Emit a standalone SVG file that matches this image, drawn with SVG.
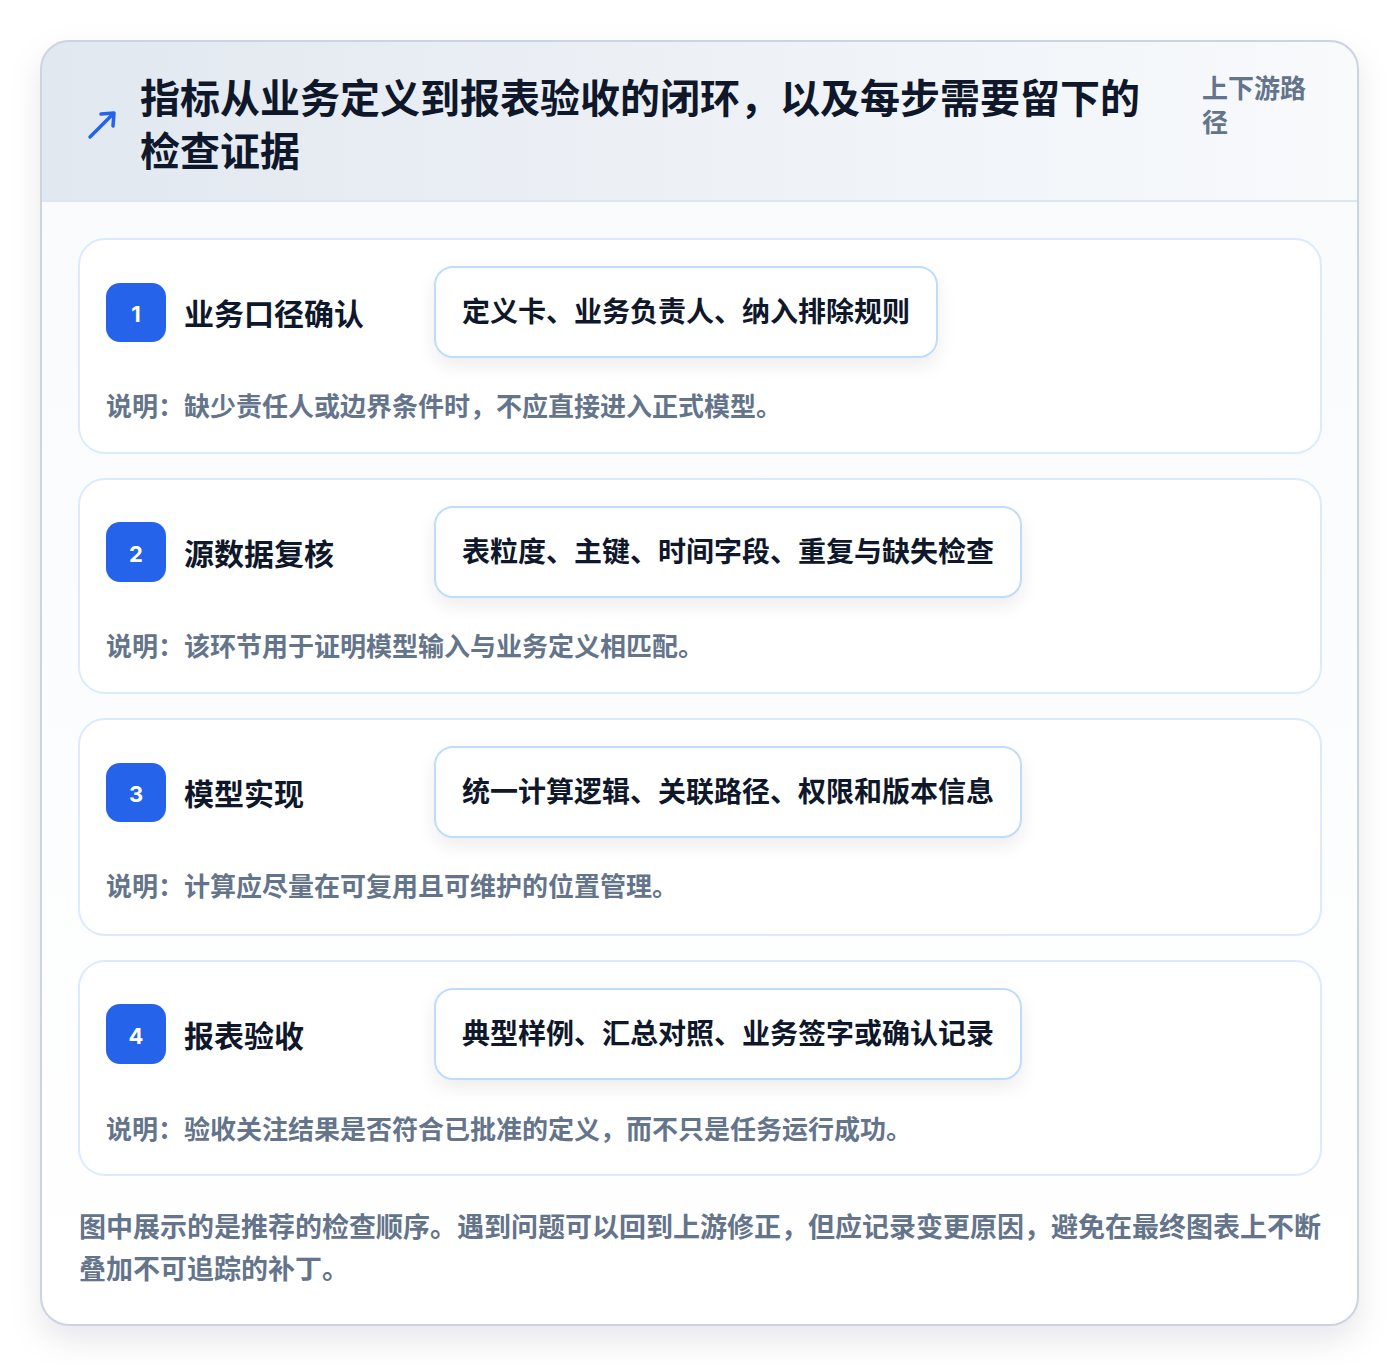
<svg xmlns="http://www.w3.org/2000/svg" width="1400" height="1366" viewBox="0 0 1400 1366">
<defs>
<linearGradient id="hdr" x1="0" y1="0" x2="1" y2="0">
<stop offset="0" stop-color="#e2e8f0"/>
<stop offset="1" stop-color="#f8fafc"/>
</linearGradient>
<linearGradient id="body" x1="0" y1="0" x2="0" y2="1">
<stop offset="0" stop-color="#f8fafc"/>
<stop offset="1" stop-color="#ffffff"/>
</linearGradient>
<filter id="outerShadow" x="-10%" y="-10%" width="120%" height="120%">
<feDropShadow dx="0" dy="14" stdDeviation="16" flood-color="#0f172a" flood-opacity="0.10"/>
</filter>
<filter id="boxShadow" x="-10%" y="-30%" width="120%" height="160%">
<feDropShadow dx="0" dy="8" stdDeviation="9" flood-color="#0f172a" flood-opacity="0.07"/>
</filter>
<clipPath id="cardClip"><rect x="41" y="41" width="1317" height="1284" rx="28"/></clipPath>
</defs>
<style>
.cjk{font-family:"Noto Sans CJK SC","Noto Sans",sans-serif;font-weight:700}
.title{font-size:40px;fill:#0f172a}
.tag{font-size:26px;fill:#64748b}
.step{fill:#ffffff;stroke:#dbeafe;stroke-width:2}
.badge{fill:#2563eb}
.num{font-family:"Inter","Noto Sans",sans-serif;font-weight:700;font-size:22px;fill:#ffffff}
.stitle{font-size:30px;fill:#0f172a}
.ev{fill:#ffffff;stroke:#bfdbfe;stroke-width:2}
.evt{font-size:28px;fill:#0f172a}
.note{font-size:26px;fill:#64748b}
.foot{font-size:27px;fill:#64748b}
</style>
<rect width="1400" height="1366" fill="#ffffff"/>
<g id="frame">
<rect x="41" y="41" width="1317" height="1284" rx="28" fill="url(#body)" filter="url(#outerShadow)"/>
<g clip-path="url(#cardClip)">
<rect x="41" y="41" width="1317" height="160" fill="url(#hdr)"/>
<line x1="41" y1="201" x2="1358" y2="201" stroke="#dbe6f3" stroke-width="2"/>
</g>
<rect x="41" y="41" width="1317" height="1284" rx="28" fill="none" stroke="#cbd5e1" stroke-width="2"/>
</g>
<g id="header">
<path d="M90 137 L111 116" stroke="#2563eb" stroke-width="3.5" stroke-linecap="round" fill="none"/>
<path d="M101 114 L114 113 L113 126" stroke="#2563eb" stroke-width="3.5" stroke-linecap="round" stroke-linejoin="round" fill="none"/>
<text class="cjk title" x="140" y="113">指标从业务定义到报表验收的闭环，以及每步需要留下的</text>
<text class="cjk title" x="140" y="166">检查证据</text>
<text class="cjk tag" x="1202" y="98">上下游路</text>
<text class="cjk tag" x="1202" y="132">径</text>
</g>
<g id="step1">
<rect class="step" x="79" y="239" width="1242" height="214" rx="26"/>
<rect class="badge" x="106" y="283" width="60" height="59" rx="14"/>
<text class="num" x="136" y="322" text-anchor="middle">1</text>
<text class="cjk stitle" x="184" y="325">业务口径确认</text>
<rect class="ev" x="435" y="267" width="502" height="90" rx="18" filter="url(#boxShadow)"/>
<text class="cjk evt" x="462" y="322">定义卡、业务负责人、纳入排除规则</text>
<text class="cjk note" x="106" y="416">说明：缺少责任人或边界条件时，不应直接进入正式模型。</text>
</g>
<g id="step2">
<rect class="step" x="79" y="479" width="1242" height="214" rx="26"/>
<rect class="badge" x="106" y="522" width="60" height="60" rx="14"/>
<text class="num" x="136" y="562" text-anchor="middle">2</text>
<text class="cjk stitle" x="184" y="565">源数据复核</text>
<rect class="ev" x="435" y="507" width="586" height="90" rx="18" filter="url(#boxShadow)"/>
<text class="cjk evt" x="462" y="562">表粒度、主键、时间字段、重复与缺失检查</text>
<text class="cjk note" x="106" y="656">说明：该环节用于证明模型输入与业务定义相匹配。</text>
</g>
<g id="step3">
<rect class="step" x="79" y="719" width="1242" height="216" rx="26"/>
<rect class="badge" x="106" y="763" width="60" height="59" rx="14"/>
<text class="num" x="136" y="802" text-anchor="middle">3</text>
<text class="cjk stitle" x="184" y="805">模型实现</text>
<rect class="ev" x="435" y="747" width="586" height="90" rx="18" filter="url(#boxShadow)"/>
<text class="cjk evt" x="462" y="802">统一计算逻辑、关联路径、权限和版本信息</text>
<text class="cjk note" x="106" y="896">说明：计算应尽量在可复用且可维护的位置管理。</text>
</g>
<g id="step4">
<rect class="step" x="79" y="961" width="1242" height="214" rx="26"/>
<rect class="badge" x="106" y="1004" width="60" height="60" rx="14"/>
<text class="num" x="136" y="1044" text-anchor="middle">4</text>
<text class="cjk stitle" x="184" y="1047">报表验收</text>
<rect class="ev" x="435" y="989" width="586" height="90" rx="18" filter="url(#boxShadow)"/>
<text class="cjk evt" x="462" y="1044">典型样例、汇总对照、业务签字或确认记录</text>
<text class="cjk note" x="106" y="1139">说明：验收关注结果是否符合已批准的定义，而不只是任务运行成功。</text>
</g>
<g id="connectors"/>
<g id="footer">
<text class="cjk foot" x="79" y="1237">图中展示的是推荐的检查顺序。遇到问题可以回到上游修正，但应记录变更原因，避免在最终图表上不断</text>
<text class="cjk foot" x="79" y="1279">叠加不可追踪的补丁。</text>
</g>
</svg>
